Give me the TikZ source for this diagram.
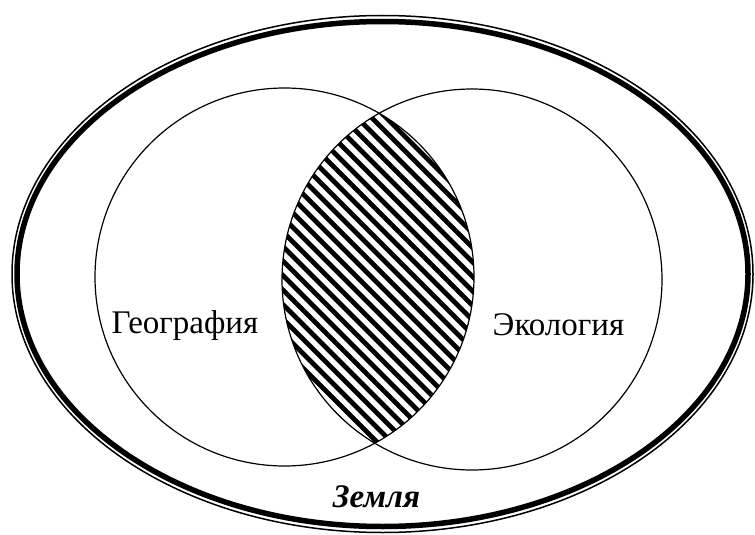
\documentclass[tikz,border=0pt]{standalone}
\usepackage{fontspec}
\setmainfont{Liberation Serif}
\begin{document}
\begin{tikzpicture}[x=1pt,y=-1pt,
  ring/.style={line width=1.2pt},
  hatchline/.style={line width=4.8pt},
  lbl/.style={anchor=base, inner sep=0pt, font=\fontsize{33}{33}\selectfont}]
\useasboundingbox (0,0) rectangle (755,535);
\coordinate (O) at (382.5,274);
\coordinate (G) at (284.5,277);
\coordinate (E) at (472,279.5);
% hatched intersection
\begin{scope}
  \clip (G) ellipse [x radius=189.5pt, y radius=189pt];
  \clip (E) ellipse [x radius=190pt, y radius=190.5pt];
  \foreach \k in {-210,-195.5,...,420} \draw[hatchline] (\k,0) -- ++(600,600);
\end{scope}
% two circles
\draw[ring] (G) ellipse [x radius=189.5pt, y radius=189pt];
\draw[ring] (E) ellipse [x radius=190pt, y radius=190.5pt];
% outer double ellipse
\draw[line width=1.5pt] (O) ellipse [x radius=370.5pt, y radius=258.5pt];
\draw[line width=5.5pt] (O) ellipse [x radius=365.5pt, y radius=252.5pt];
% labels
\node[lbl] (geo) at (185,333) {География};
\node[lbl] (eco) at (558.5,335) {Экология};
\node[lbl, font=\fontsize{33}{33}\selectfont\bfseries\itshape] (earth) at (376.5,507) {Земля};
\end{tikzpicture}
\end{document}
